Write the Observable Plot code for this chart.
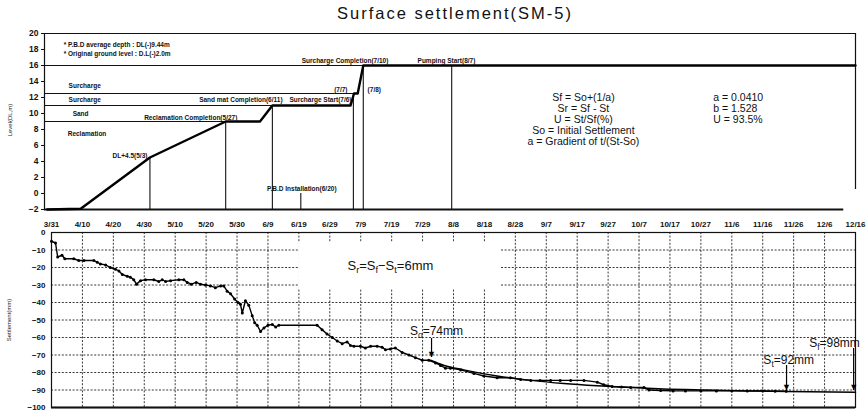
<!DOCTYPE html>
<html><head><meta charset="utf-8">
<script src="https://cdn.jsdelivr.net/npm/d3@7"></script>
<script src="https://cdn.jsdelivr.net/npm/@observablehq/plot@0.6"></script>
<style>
body{margin:0;background:#fff;}
#wrap{position:relative;width:867px;height:411px;overflow:hidden;font-family:"Liberation Sans",Arial,sans-serif;background:#fff;}
#title{position:absolute;left:0;width:910px;top:4px;text-align:center;font-size:16.5px;letter-spacing:2px;color:#111;}
#upper{position:absolute;left:0;top:25px;}
#lower{position:absolute;left:0;top:213px;}
.ylab{position:absolute;font-size:6px;transform:rotate(-90deg);transform-origin:center;white-space:nowrap;color:#222;}
</style></head>
<body>
<div id="wrap">
  <div id="title">Surface settlement(SM-5)</div>
  <div id="upper"></div>
  <div id="lower"></div>
  <div class="ylab" style="left:-12px;top:117px;width:44px;text-align:center;">Level(DL,m)</div>
  <div class="ylab" style="left:-17px;top:317px;width:52px;text-align:center;">Settlement(mm)</div>
</div>
<script>
// ---------- x axis (days after 3/31) ----------
const xTickDays = [0,10,20,30,40,50,60,70,80,90,100,110,120,130,140,150,160,170,180,190,200,210,220,230,240,250,260];
const xTickLabels = ["3/31","4/10","4/20","4/30","5/10","5/20","5/30","6/9","6/19","6/29","7/9","7/19","7/29","8/8","8/18","8/28","9/7","9/17","9/27","10/7","10/17","10/27","11/6","11/16","11/26","12/6","12/16"];

// ---------- upper chart: fill level history ----------
const levelTicks = [-2,0,2,4,6,8,10,12,14,16,18,20];
const levelDays = [-1.4, 9.4, 31.8, 56.3, 67.4, 71.4, 96.7, 97.8, 99.0, 100.8, 260];
const levelVals = [-2, -1.9, 4.5, 9, 9, 11, 11, 12.5, 12.5, 16, 16];
const eventDays = [31.8, 56.3, 71.4, 80.6, 97.6, 100.8, 129.4];
const eventTops = [4.5, 9, 11, 0, 12.5, 16, 16];
const layerLevels = [16, 12.5, 11, 9];
const layerEnds = [100.8, 97.8, 71.4, 56.3];
const upperLabels = ["* P.B.D average depth : DL(-)9.44m","* Original ground level : D.L(-)2.0m","Surcharge","Surcharge","Sand","Reclamation","DL+4.5(5/3)","Reclamation Completion(5/27)","Sand mat Completion(6/11)","Surcharge Start(7/6)","(7/7)","(7/8)","Surcharge Completion(7/10)","Pumping Start(8/7)","P.B.D Installation(6/20)"];
const upperLabelDays = [3.9, 3.9, 5.5, 5.5, 6.8, 5.2, 31.0, 45.0, 74.7, 97.0, 95.7, 102.2, 94.9, 127.7, 80.9];
const upperLabelLevels = [18.6, 17.5, 13.4, 11.75, 9.9, 7.4, 4.75, 9.5, 11.75, 11.75, 13.0, 13.0, 16.6, 16.6, 0.6];
const upperLabelAnchors = ["start","start","start","start","start","start","end","middle","end","end","end","start","middle","middle","middle"];
const formulaLines = ["Sf = So+(1/a)","Sr = Sf - St","U = St/Sf(%)","So = Initial Settlement","a = Gradient of t/(St-So)"];
const formulaLevels = [12.0, 10.6, 9.25, 7.9, 6.5];
const paramLines = ["a = 0.0410","b = 1.528","U = 93.5%"];
const paramLevels = [12.0, 10.6, 9.25];

// ---------- lower chart: measured settlement ----------
const mmTicks = [-100,-90,-80,-70,-60,-50,-40,-30,-20,-10,0];
const settleDays = [0,1.3,2,3.4,4.3,7.2,8.8,10.5,13.7,14.8,15.8,17.5,19,20.7,21.8,22.9,24.5,25.5,26.6,27.5,28.8,30.4,33.1,34.7,35.8,36.9,38.5,41.2,42.8,43.9,45.2,46.8,48.2,49.8,51.4,53,54.7,55.7,56.8,57.9,59.2,60.3,61.1,61.7,62.7,63.8,64.9,65.7,66.5,67.6,68.7,70,71.4,72.5,73.5,85.9,87.5,89.1,90.8,92.4,94,95.6,96.7,97.8,99.9,101.5,103.2,105.3,106.9,108,109.6,111.2,113.4,115.6,117.7,119.9,122,124.2,125.8,127.4,129,132.3,136.6,139.8,144.1,148.4,151.7,155,158,161.4,164.5,167.9,172.2,176.5,178.6,181.3,184.3,187.3,191.6,193.2,197,201,205,210,215,220,225,230,234,237.6];
const settleMm = [-5,-6,-14,-13,-15,-15,-16,-16,-16,-17,-18,-18.5,-20,-21,-22,-24,-25,-25.5,-27,-29.5,-27.5,-27,-27,-28,-27,-28,-27.5,-27,-27,-28.5,-29.5,-28.5,-29.5,-30,-30.5,-31.5,-30.5,-30.5,-33.5,-35,-38,-40,-41,-46,-39,-41.5,-47.5,-51.5,-53,-56.5,-54.5,-53,-52.5,-54,-53,-53,-55.5,-58,-60,-62,-63.5,-62.5,-64.5,-65,-65,-66,-65,-65,-65.5,-67,-66.5,-66,-68.5,-70,-71.5,-73,-73,-74.5,-76,-77.5,-77.5,-78.5,-80.5,-82,-83,-83,-84,-84.5,-84.5,-84.5,-84.5,-84.5,-84.5,-85.5,-87,-88,-88.3,-88.5,-88.5,-90,-90.3,-90.5,-90.5,-90.5,-90.5,-90.5,-90.6,-90.6,-90.7,-90.7,-90.8];
const fitDays = [122.6,127,133.3,144.1,155,165.7,176.5,187.3,198,212,225,237.6,260];
const fitMm = [-73,-76,-78.5,-82,-84.5,-86.3,-87.6,-88.6,-89.4,-90,-90.5,-90.8,-91.3];
const noteTexts = ["S_r=S_f−S_t=6mm","S_o=74mm","S_t=92mm","S_f=98mm"];
const noteDays = [109.6, 124.5, 238.4, 253.2];
const noteMm = [-18.9, -56.6, -73.1, -63.4];
const noteSizes = [13, 12, 12, 12];
const arrowDays = [122.9, 237.7, 259.4];
const arrowFrom = [-60.6, -76, -66.3];
const arrowTo = [-71.4, -90.3, -90.3];
const labelBox = {x1: 79.9, x2: 145.2, y1: -5.7, y2: -32};

// ---------- build tables ----------
const levelData = levelDays.map((d,i)=>({day:d, lv:levelVals[i]}));
const events = eventDays.map((d,i)=>({day:d, top:eventTops[i]}));
const layers = layerLevels.map((l,i)=>({lv:l, end:layerEnds[i]}));
const uLabels = upperLabels.map((t,i)=>({t, day:upperLabelDays[i], lv:upperLabelLevels[i], a:upperLabelAnchors[i]}));
const settle = settleDays.map((d,i)=>({day:d, mm:settleMm[i]}));
const fit = fitDays.map((d,i)=>({day:d, mm:fitMm[i]}));
const notes = noteTexts.map((t,i)=>({t, day:noteDays[i], mm:noteMm[i], s:noteSizes[i]}));
const arrows = arrowDays.map((d,i)=>({day:d, y1:arrowFrom[i], y2:arrowTo[i]}));

const FONT = '"Liberation Sans", Arial, sans-serif';
const W = 867;

const anchorsUsed = ["start","middle","end"];
const upperTextMarks = anchorsUsed.map(a => Plot.text(uLabels.filter(d=>d.a===a), {x:"day", y:"lv", text:"t", textAnchor:a, fontSize:6.5, fontWeight:"bold", fill:"#111"}));

const upper = Plot.plot({
  width: W, height: 190, marginTop: 8, marginBottom: 6, marginLeft: 44, marginRight: 12,
  style: {fontFamily: FONT, fontSize: "8.5px", fontWeight: "bold", background: "white", color: "#111"},
  x: {domain: [-2.3, 260], axis: null},
  y: {domain: [-2, 20], ticks: levelTicks, tickSize: 3, tickPadding: 3, label: null},
  marks: [
    Plot.ruleY([20], {stroke: "#111", strokeWidth: 1.2}),
    Plot.ruleY([-2], {x1: -2.3, x2: 256.2, stroke: "#111", strokeWidth: 1.8}),
    Plot.ruleX([-2.3], {stroke: "#111", strokeWidth: 1.2}),
    Plot.ruleX([260], {y1: 0.5, y2: 20, stroke: "#111", strokeWidth: 1.2}),
    Plot.ruleY(layers, {y: "lv", x1: -2.3, x2: "end", stroke: "#111", strokeWidth: 1.2}),
    Plot.ruleX(events, {x: "day", y1: -2, y2: "top", stroke: "#111", strokeWidth: 1.1}),
    Plot.line(levelData, {x: "day", y: "lv", stroke: "#000", strokeWidth: 2.4}),
    ...upperTextMarks,
    Plot.text(formulaLines, {x: () => 172, y: (d,i) => formulaLevels[i], text: d => d, fontSize: 10.5, fontWeight: "normal", fill: "#111"}),
    Plot.text(paramLines, {x: () => 214, y: (d,i) => paramLevels[i], text: d => d, textAnchor: "start", fontSize: 10.5, fontWeight: "normal", fill: "#111"})
  ]
});
document.getElementById("upper").appendChild(upper);

const lower = Plot.plot({
  width: W, height: 198, marginTop: 19, marginBottom: 4, marginLeft: 51, marginRight: 12,
  style: {fontFamily: FONT, fontSize: "8px", fontWeight: "bold", background: "white", color: "#111"},
  x: {domain: [0, 260], ticks: xTickDays, tickFormat: d => xTickLabels[xTickDays.indexOf(d)], axis: "top", tickSize: 0, tickPadding: 6, label: null},
  y: {domain: [-100, 0], ticks: mmTicks, tickSize: 0, tickPadding: 6, label: null},
  marks: [
    Plot.ruleX(xTickDays.slice(1, -1), {stroke: "#222", strokeWidth: 0.9, strokeDasharray: "2,1.6"}),
    Plot.ruleY(mmTicks.slice(1, -1), {stroke: "#222", strokeWidth: 0.9, strokeDasharray: "2,1.6"}),
    Plot.rect([labelBox], {x1: "x1", x2: "x2", y1: "y1", y2: "y2", fill: "white"}),
    Plot.frame({stroke: "#111", strokeWidth: 1.2}),
    Plot.ruleY([-100], {stroke: "#111", strokeWidth: 2}),
    Plot.line(fit, {x: "day", y: "mm", stroke: "#000", strokeWidth: 1.5, curve: "monotone-x"}),
    Plot.line(settle, {x: "day", y: "mm", stroke: "#000", strokeWidth: 1.4}),
    Plot.dot(settle, {x: "day", y: "mm", r: 1.5, fill: "#000"}),
    Plot.ruleX(arrows, {x: "day", y1: "y1", y2: "y2", stroke: "#000", strokeWidth: 1.2}),
    Plot.text(arrows, {x: "day", y: "y2", text: () => "▼", fontSize: 9, dy: -3, fill: "#000"}),
    Plot.text(notes.filter(d=>d.s===13), {x: "day", y: "mm", text: "t", fontSize: 13, fontWeight: "normal", fill: "#111"}),
    Plot.text(notes.filter(d=>d.s===12), {x: "day", y: "mm", text: "t", fontSize: 12, fontWeight: "normal", fill: "#111"})
  ]
});
document.getElementById("lower").appendChild(lower);

// subscripts: S_x -> S with small lowered letter
lower.querySelectorAll("text").forEach(t => {
  const s = t.textContent;
  if (!s.includes("_")) return;
  const parts = s.split(/_(.)/);
  let html = "";
  for (let i = 0; i < parts.length; i++) {
    if (i % 2 === 1) html += `<tspan font-size="70%" dy="3">${parts[i]}</tspan>`;
    else if (i === 0) html += parts[i];
    else html += `<tspan dy="-3">${parts[i]}</tspan>`;
  }
  t.innerHTML = html;
});
</script>
</body></html>
